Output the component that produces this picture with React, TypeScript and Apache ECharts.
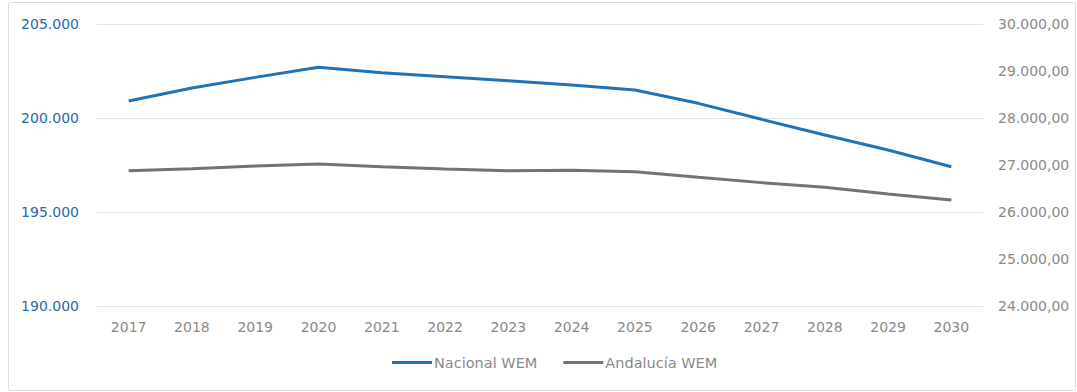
import React, { useEffect, useRef } from "react";
import * as echarts from "echarts";

const years = ["2017", "2018", "2019", "2020", "2021", "2022", "2023", "2024", "2025", "2026", "2027", "2028", "2029", "2030"];
const nacionalWEM = [200900, 201600, 202160, 202700, 202410, 202200, 201980, 201750, 201490, 200780, 199930, 199100, 198300, 197410];
const andaluciaWEM = [26880, 26920, 26980, 27020, 26965, 26915, 26880, 26890, 26858, 26740, 26625, 26525, 26385, 26255];

const fmtLeft = (v: number) => String(Math.round(v)).replace(/\B(?=(\d{3})+(?!\d))/g, ".");
const fmtRight = (v: number) => String(Math.round(v)).replace(/\B(?=(\d{3})+(?!\d))/g, ".") + ",00";

export default function App() {
  const ref = useRef<HTMLDivElement>(null);
  useEffect(() => {
    document.body.style.margin = "0";
    const chart = echarts.init(ref.current!, undefined, { renderer: "svg" });
    const font = "'DejaVu Sans', 'Open Sans', sans-serif";
    chart.setOption({
      animation: false,
      backgroundColor: "#ffffff",
      textStyle: { fontFamily: font },
      graphic: [
        {
          type: "rect",
          shape: { x: 8.5, y: 2.5, width: 1067, height: 388, r: 2 },
          style: { fill: "none", stroke: "#dcdcdc", lineWidth: 1 },
          silent: true,
        },
      ],
      grid: { left: 97, right: 94, top: 24, bottom: 86 },
      legend: {
        bottom: 17,
        left: 387,
        itemWidth: 40,
        itemHeight: 3,
        itemGap: 26,
        icon: "rect",
        textStyle: { color: "#8a8a8a", fontSize: 14.5, fontFamily: font, padding: [0, 0, 0, -3] },
        data: ["Nacional WEM", "Andalucía WEM"],
      },
      xAxis: {
        type: "category",
        data: years,
        boundaryGap: true,
        axisLine: { show: false },
        axisTick: { show: false },
        axisLabel: { color: "#8a8a8a", fontSize: 14, margin: 14, fontFamily: font },
      },
      yAxis: [
        {
          type: "value",
          min: 190000,
          max: 205000,
          interval: 5000,
          axisLine: { show: false },
          axisTick: { show: false },
          splitLine: { lineStyle: { color: "#e3e3e3", width: 1 } },
          axisLabel: { color: "#2569ab", fontSize: 14, margin: 18, formatter: fmtLeft, fontFamily: font },
        },
        {
          type: "value",
          min: 24000,
          max: 30000,
          interval: 1000,
          position: "right",
          axisLine: { show: false },
          axisTick: { show: false },
          splitLine: { show: false },
          axisLabel: { color: "#8a8a8a", fontSize: 14, margin: 15, formatter: fmtRight, fontFamily: font },
        },
      ],
      series: [
        {
          name: "Nacional WEM",
          type: "line",
          yAxisIndex: 0,
          data: nacionalWEM,
          symbol: "none",
          lineStyle: { color: "#2173b8", width: 3 },
          itemStyle: { color: "#2173b8" },
        },
        {
          name: "Andalucía WEM",
          type: "line",
          yAxisIndex: 1,
          data: andaluciaWEM,
          symbol: "none",
          lineStyle: { color: "#737373", width: 3 },
          itemStyle: { color: "#737373" },
        },
      ],
    });
    return () => chart.dispose();
  }, []);
  return <div ref={ref} style={{ width: 1077, height: 392 }} />;
}
